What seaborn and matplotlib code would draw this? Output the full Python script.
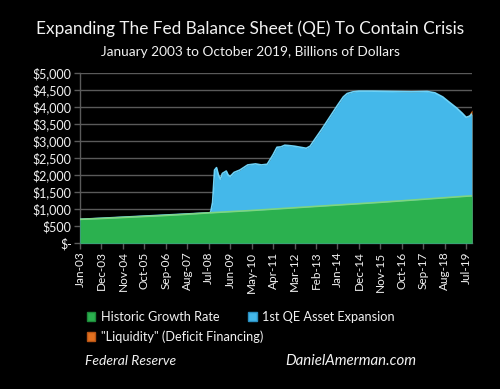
import numpy as np
import pandas as pd
import matplotlib
matplotlib.use("Agg")
import matplotlib.pyplot as plt
import seaborn as sns
from matplotlib.patches import Patch

# Months since Jan 2003 (0 = Jan-03, 201 = Oct-19)
growth_months = [0, 11, 22, 33, 44, 55, 66, 77, 88, 99, 110, 121, 132, 143, 154, 165, 176, 187, 198, 201]
growth_values = [700, 725, 755, 785, 815, 850, 890, 925, 960, 1000, 1040, 1080, 1120, 1160, 1200, 1245, 1290, 1335, 1380, 1390]

total_months = [0, 66, 67, 68, 69, 70, 71, 72, 73, 75, 76, 77, 79, 82, 86, 90, 93, 96, 99, 101,
                103, 105, 107, 110, 113, 116, 118, 120, 124, 128, 132, 135, 137, 140, 143,
                150, 160, 170, 178, 182, 186, 189, 193, 196, 198, 200, 201]
total_values = [700, 890, 905, 1200, 2150, 2220, 2000, 1880, 2050, 2120, 2000, 1960, 2080, 2150, 2300, 2330, 2300, 2320, 2600, 2820,
                2830, 2880, 2870, 2850, 2820, 2790, 2850, 3020, 3350, 3700, 4050, 4300, 4400, 4450, 4470,
                4470, 4460, 4450, 4460, 4420, 4300, 4160, 3980, 3820, 3700, 3740, 3800]

liquidity_months = [197, 199, 201]
liquidity_top = [3720, 3740, 3920]

tick_months = list(range(0, 199, 11))
tick_labels = ["Jan-03", "Dec-03", "Nov-04", "Oct-05", "Sep-06", "Aug-07", "Jul-08", "Jun-09", "May-10",
               "Apr-11", "Mar-12", "Feb-13", "Jan-14", "Dec-14", "Nov-15", "Oct-16", "Sep-17", "Aug-18", "Jul-19"]
y_ticks = list(range(0, 5001, 500))
y_labels = ["$-"] + [f"${v:,}" for v in y_ticks[1:]]

green = "#2bb14f"
green_edge = "#7fd67f"
blue = "#44b8ea"
blue_edge = "#6dd2f7"
orange = "#e2701f"
grid = "#5a5a5a"

sns.set_style("dark", {"axes.facecolor": "black", "figure.facecolor": "black"})
plt.rcParams["font.family"] = ["Lato", "DejaVu Sans"]

df_growth = pd.DataFrame({"month": growth_months, "value": growth_values})
df_total = pd.DataFrame({"month": total_months, "value": total_values})

fig = plt.figure(figsize=(5, 3.89), dpi=100)
ax = fig.add_axes([0.16, 0.375, 0.784, 0.437])
ax.set_facecolor("black")

# stacked look: draw the larger areas first, growth on top
ax.fill_between(liquidity_months, 0, liquidity_top, color=orange, lw=0, zorder=2)
ax.fill_between(total_months, 0, total_values, color=blue, lw=0, zorder=3)
sns.lineplot(data=df_total, x="month", y="value", color=blue_edge, lw=1.2, ax=ax, zorder=4)
ax.fill_between(growth_months, 0, growth_values, color=green, lw=0, zorder=5)
sns.lineplot(data=df_growth, x="month", y="value", color=green_edge, lw=1.2, ax=ax, zorder=6)

ax.set_xlim(0, 201)
ax.set_ylim(0, 5000)
ax.set_yticks(y_ticks)
ax.set_yticklabels(y_labels)
ax.set_xticks(tick_months)
ax.set_xticklabels(tick_labels, rotation=90)
ax.set_xlabel("")
ax.set_ylabel("")
ax.grid(False)
for v in y_ticks[1:]:
    ax.axhline(v, color=grid, lw=1, zorder=1)

for side in ["top", "right"]:
    ax.spines[side].set_visible(False)
for side in ["left", "bottom"]:
    ax.spines[side].set_visible(True)
    ax.spines[side].set_color(grid)
    ax.spines[side].set_linewidth(1)
ax.tick_params(axis="both", colors="white", length=4, width=1, color=grid,
               bottom=True, left=True, pad=2)
ax.tick_params(axis="y", labelsize=9)
ax.tick_params(axis="x", labelsize=8.5)
for lab in ax.get_xticklabels() + ax.get_yticklabels():
    lab.set_color("#f2f2f2")

fig.text(0.5, 0.925, "Expanding The Fed Balance Sheet (QE) To Contain Crisis", ha="center", va="center",
         color="#f2f2f2", fontsize=12.4)
fig.text(0.5, 0.866, "January 2003 to October 2019, Billions of Dollars", ha="center", va="center",
         color="#f2f2f2", fontsize=9.8)

handles = [Patch(facecolor=green, edgecolor="#1d8a3a", label="Historic Growth Rate"),
           Patch(facecolor=orange, edgecolor="#b85515", label='"Liquidity" (Deficit Financing)'),
           Patch(facecolor=blue, edgecolor="#2a8fc0", label="1st QE Asset Expansion")]
leg = fig.legend(handles=handles, ncol=2, loc="upper left", bbox_to_anchor=(0.15, 0.23),
                 frameon=False, fontsize=9.2, handlelength=0.7, handleheight=0.7,
                 handletextpad=0.4, columnspacing=-1.2, labelspacing=0.6)
for t in leg.get_texts():
    t.set_color("#f2f2f2")

fig.text(0.17, 0.072, "Federal Reserve", color="#f2f2f2", fontsize=10, style="italic", va="center")
fig.text(0.57, 0.072, "DanielAmerman.com", color="#f2f2f2", fontsize=10.8, style="italic", va="center")

fig.savefig("out.png", dpi=100, facecolor="black")
